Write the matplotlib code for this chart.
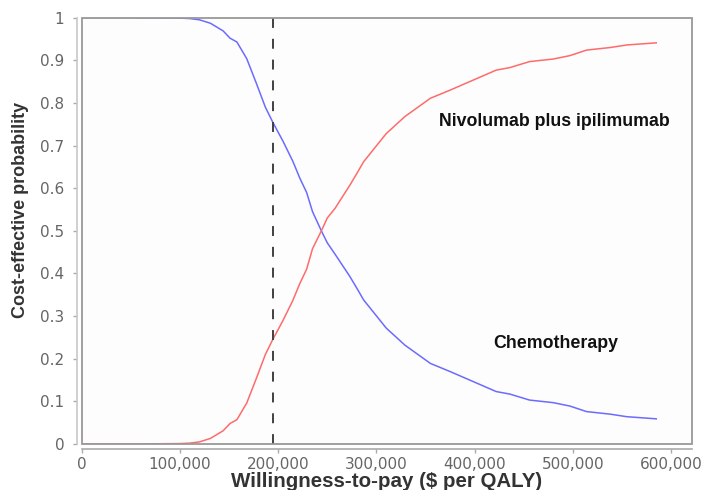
import matplotlib
matplotlib.use("Agg")
import matplotlib.pyplot as plt
from matplotlib.ticker import FuncFormatter
from matplotlib.patches import Rectangle

plt.rcParams['font.family'] = ['Liberation Sans', 'DejaVu Sans']

wtp = [0, 50000, 100000, 110000, 120000, 131000, 144000, 151000, 158000, 168000,
       178000, 187000, 194500, 205000, 215000, 222000, 229000, 235000, 244000,
       250000, 258000, 273000, 281000, 287000, 310000, 329000, 355000, 375000, 399000,
       422000, 436000, 456000, 480000, 497000, 514000, 538000, 555000, 585000]
chemo = [1.0, 1.0, 0.999, 0.998, 0.995, 0.987, 0.969, 0.952, 0.943, 0.904,
         0.845, 0.790, 0.755, 0.710, 0.663, 0.624, 0.590, 0.545, 0.500,
         0.472, 0.445, 0.393, 0.362, 0.338, 0.272, 0.232, 0.189, 0.170, 0.146,
         0.123, 0.117, 0.103, 0.097, 0.089, 0.076, 0.070, 0.064, 0.059]
nivo = [0.0, 0.0, 0.001, 0.002, 0.005, 0.013, 0.031, 0.048, 0.057, 0.096,
        0.155, 0.210, 0.245, 0.290, 0.337, 0.376, 0.410, 0.458, 0.500,
        0.530, 0.553, 0.607, 0.638, 0.662, 0.728, 0.768, 0.811, 0.830, 0.854,
        0.877, 0.883, 0.897, 0.903, 0.911, 0.924, 0.930, 0.936, 0.941]
threshold = 195000
xticks = [0, 100000, 200000, 300000, 400000, 500000, 600000]
yticks = [0, 0.1, 0.2, 0.3, 0.4, 0.5, 0.6, 0.7, 0.8, 0.9, 1]

fig = plt.figure(figsize=(7.08, 4.90), dpi=100)
ax = fig.add_axes([0.1154, 0.0939, 0.8616, 0.8700])
ax.set_facecolor('#fdfdfd')

ax.plot(wtp, chemo, color='#6b6bff', lw=1.1)
ax.plot(wtp, nivo, color='#ff6b6b', lw=1.1)
ax.plot([threshold, threshold], [1, 0], color='#404040', lw=1.4, dashes=(5.1, 5.6))

ax.set_xlim(0, 621070)
ax.set_ylim(0, 1.0)
ax.set_xticks(xticks)
ax.set_yticks(yticks)
ax.xaxis.set_major_formatter(FuncFormatter(lambda v, p: f"{int(v):,}"))
ax.yaxis.set_major_formatter(FuncFormatter(lambda v, p: ('%g' % v)))
ax.tick_params(axis='both', colors='#aaaaaa', labelcolor='#666666', length=2.8, width=1,
               labelsize=11, labelfontfamily='DejaVu Sans')
ax.tick_params(axis='y', pad=6.5)
ax.tick_params(axis='x', pad=2.5)

for k in ('top', 'right'):
    ax.spines[k].set_visible(False)
ax.spines['left'].set_position(('outward', 3.2))
ax.spines['bottom'].set_position(('outward', 3.8))
ax.spines['left'].set_color('#c8c8c8')
ax.spines['bottom'].set_color('#aaaaaa')
ax.spines['left'].set_linewidth(1.2)
ax.spines['bottom'].set_linewidth(1.2)

frame = Rectangle((0, 0), 1, 1, transform=ax.transAxes, fill=False,
                  edgecolor='#999999', lw=1.3, clip_on=False, zorder=5)
ax.add_patch(frame)

ax.set_xlabel('Willingness-to-pay ($ per QALY)', fontsize=14.8, fontweight='bold', color='#333333')
ax.xaxis.set_label_coords(0.5, (444 - 482) / 426.3, transform=ax.transAxes)
ax.xaxis.label.set_va('center')
ax.set_ylabel('Cost-effective probability', fontsize=13, fontweight='bold', color='#333333')
ax.yaxis.set_label_coords((20 - 81.7) / 610, (444 - 210) / 426.3, transform=ax.transAxes)
ax.yaxis.label.set_va('center')

ax.text(0.5857, 0.756, 'Nivolumab plus ipilimumab', transform=ax.transAxes, fontsize=12.8,
        fontweight='bold', color='#111111', va='center', ha='left')
ax.text(0.6743, 0.236, 'Chemotherapy', transform=ax.transAxes, fontsize=12.8,
        fontweight='bold', color='#111111', va='center', ha='left')

fig.savefig('out.png', dpi=100)
